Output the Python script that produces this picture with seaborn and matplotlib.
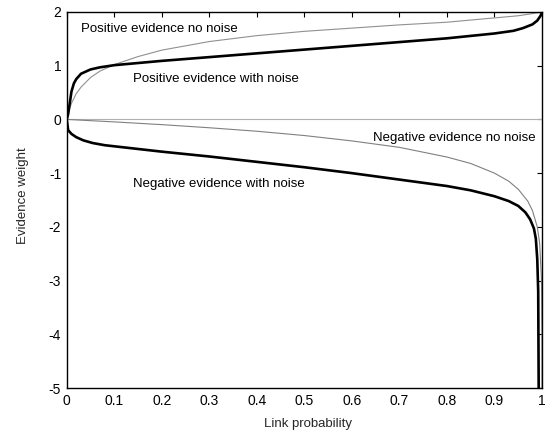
import numpy as np
import pandas as pd
import matplotlib
matplotlib.use("Agg")
import matplotlib.pyplot as plt
import seaborn as sns

# Evidence weight as a function of link probability
pos_clean_x = [0.0, 0.005, 0.01, 0.02, 0.03, 0.05, 0.07, 0.1, 0.15, 0.2, 0.3, 0.4, 0.5,
               0.6, 0.7, 0.8, 0.9, 0.95, 0.98, 1.0]
pos_clean_y = [0.0, 0.17, 0.30, 0.48, 0.60, 0.78, 0.90, 1.02, 1.17, 1.29, 1.45, 1.56, 1.64,
               1.70, 1.76, 1.81, 1.89, 1.93, 1.97, 2.0]

pos_noisy_x = [0.0, 0.003, 0.006, 0.01, 0.015, 0.02, 0.03, 0.05, 0.07, 0.1, 0.15, 0.2, 0.3,
               0.4, 0.5, 0.6, 0.7, 0.8, 0.9, 0.94, 0.96, 0.98, 0.99, 0.997, 1.0]
pos_noisy_y = [0.0, 0.10, 0.28, 0.52, 0.67, 0.75, 0.85, 0.93, 0.97, 1.01, 1.05, 1.09, 1.16,
               1.23, 1.30, 1.37, 1.44, 1.51, 1.60, 1.65, 1.70, 1.77, 1.84, 1.93, 2.0]

neg_clean_x = [0.0, 0.1, 0.2, 0.3, 0.4, 0.5, 0.6, 0.7, 0.8, 0.85, 0.9, 0.93, 0.95, 0.97,
               0.98, 0.99, 0.995, 0.999, 0.9999, 1.0]
neg_clean_y = [0.0, -0.046, -0.097, -0.155, -0.22, -0.30, -0.40, -0.52, -0.70, -0.82, -1.0,
               -1.15, -1.30, -1.52, -1.70, -2.0, -2.3, -3.0, -4.0, -5.0]

neg_noisy_x = [0.0, 0.003, 0.01, 0.02, 0.035, 0.055, 0.08, 0.1, 0.2, 0.3, 0.4, 0.5, 0.6,
               0.7, 0.8, 0.85, 0.9, 0.93, 0.95, 0.965, 0.975, 0.983, 0.987, 0.99, 0.992,
               0.993]
neg_noisy_y = [0.0, -0.20, -0.27, -0.33, -0.39, -0.44, -0.48, -0.50, -0.60, -0.69, -0.79,
               -0.89, -1.00, -1.12, -1.24, -1.32, -1.43, -1.52, -1.61, -1.73, -1.86, -2.03,
               -2.22, -2.6, -3.2, -5.0]

zero_x = [0.0, 1.0]
zero_y = [0.0, 0.0]

labels = {
    "pos_clean": "Positive evidence no noise",
    "pos_noisy": "Positive evidence with noise",
    "neg_clean": "Negative evidence no noise",
    "neg_noisy": "Negative evidence with noise",
}

frames = []
for key, xs, ys in [("zero", zero_x, zero_y),
                    ("pos_clean", pos_clean_x, pos_clean_y),
                    ("neg_clean", neg_clean_x, neg_clean_y),
                    ("pos_noisy", pos_noisy_x, pos_noisy_y),
                    ("neg_noisy", neg_noisy_x, neg_noisy_y)]:
    frames.append(pd.DataFrame({"p": xs, "w": ys, "series": key}))
df = pd.concat(frames, ignore_index=True)

sns.set_style("white")
plt.rcParams["font.family"] = ["Liberation Sans", "DejaVu Sans"]
plt.rcParams["axes.unicode_minus"] = False

fig = plt.figure(figsize=(5.46, 4.33), dpi=100)
ax = fig.add_axes([0.1222, 0.1039, 0.8705, 0.8684])

palette = {"zero": "#b0b0b0", "pos_clean": "#909090", "neg_clean": "#808080",
           "pos_noisy": "black", "neg_noisy": "black"}
widths = {"zero": 0.8, "pos_clean": 0.8, "neg_clean": 0.8,
          "pos_noisy": 1.9, "neg_noisy": 1.9}

for key in ["zero", "pos_clean", "neg_clean", "pos_noisy", "neg_noisy"]:
    sub = df[df["series"] == key]
    sns.lineplot(data=sub, x="p", y="w", ax=ax, color=palette[key],
                 linewidth=widths[key], estimator=None, sort=False, legend=False)

ax.set_xlim(0, 1)
ax.set_ylim(-5, 2)
ax.set_xticks(np.arange(0, 1.01, 0.1))
ax.set_xticklabels(["0", "0.1", "0.2", "0.3", "0.4", "0.5", "0.6", "0.7", "0.8", "0.9", "1"])
ax.set_yticks(range(-5, 3))
ax.set_yticklabels(["-5", "-4", "-3", "-2", "-1", "0", "1", "2"])
ax.tick_params(direction="in", length=3.8, width=0.8, top=True, right=True,
               labelsize=10, pad=4, colors="black")
for s in ax.spines.values():
    s.set_visible(True)
    s.set_color("black")
    s.set_linewidth(1.0)

ax.set_xlabel("Link probability", fontsize=9.5)
ax.set_ylabel("Evidence weight", fontsize=9.5)
ax.xaxis.set_label_coords(0.508, -0.080)
ax.yaxis.set_label_coords(-0.080, 0.512)

text_kw = dict(fontsize=9.5, va="center", ha="left", color="black")
ax.text(0.030, 1.69, labels["pos_clean"], **text_kw)
ax.text(0.140, 0.76, labels["pos_noisy"], **text_kw)
ax.text(0.645, -0.34, labels["neg_clean"], **text_kw)
ax.text(0.140, -1.21, labels["neg_noisy"], **text_kw)

fig.savefig("out.png", dpi=100)
